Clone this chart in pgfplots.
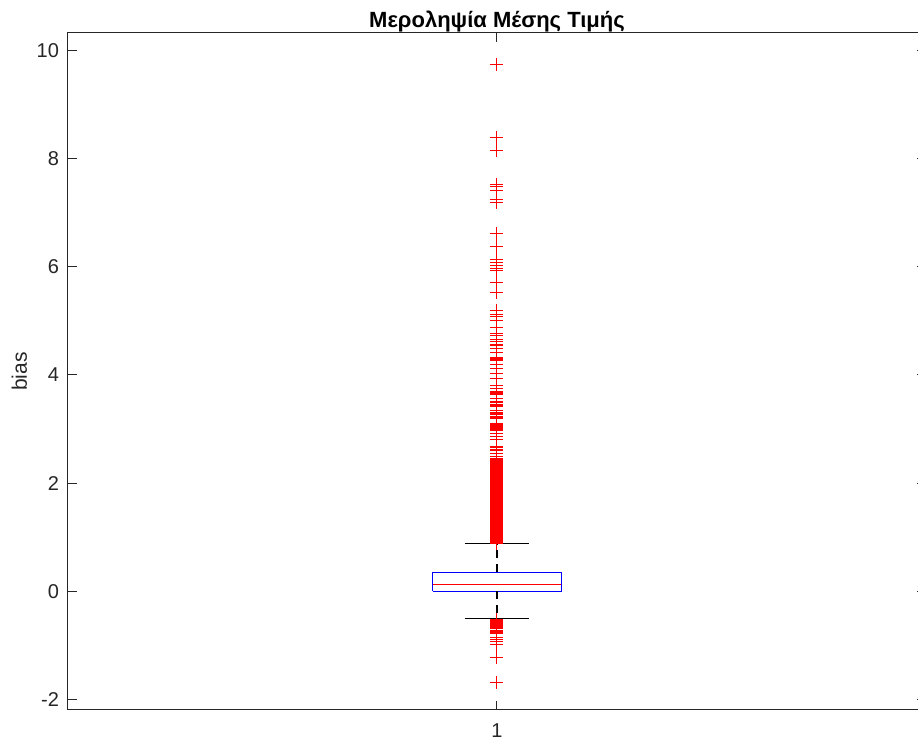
\documentclass[border=0pt]{standalone}
\usepackage{fontspec}
\setmainfont{Liberation Sans}
\usepackage{pgfplots}
\usepackage{pgfplotstable}
\pgfplotsset{compat=1.18}
\definecolor{axgray}{RGB}{38,38,38}

\pgfplotstableread{
x y
1 9.74
1 8.39
1 8.15
1 7.52
1 7.48
1 7.42
1 7.24
1 7.19
1 6.62
1 6.38
1 6.13
1 6.08
1 6.02
1 5.98
1 5.93
1 5.71
1 5.53
1 5.20
1 5.12
1 5.08
1 5.01
1 4.88
1 4.77
1 4.74
1 4.65
1 4.62
1 4.56
1 4.54
1 4.49
1 4.41
1 4.33
1 4.32
1 4.31
1 4.30
1 4.29
1 4.28
1 4.27
1 4.26
1 4.19
1 4.12
1 4.03
1 3.94
1 3.80
1 3.75
1 3.69
1 3.67
1 3.65
1 3.63
1 3.57
1 3.51
1 3.49
1 3.46
1 3.44
1 3.41
1 3.35
1 3.30
1 3.28
1 3.26
1 3.24
1 3.22
1 3.20
1 3.11
1 3.09
1 3.07
1 3.05
1 3.03
1 3.01
1 2.99
1 2.98
1 2.92
1 2.86
1 2.80
1 2.67
1 2.65
1 2.63
1 2.61
1 2.55
1 2.49
1 2.45
1 2.44
1 2.43
1 2.42
1 2.41
1 2.40
1 2.39
1 2.38
1 2.37
1 2.36
1 2.35
1 2.34
1 2.33
1 2.32
1 2.31
1 2.30
1 2.29
1 2.28
1 2.27
1 2.26
1 2.25
1 2.24
1 2.23
1 2.22
1 2.21
1 2.20
1 2.19
1 2.18
1 2.17
1 2.16
1 2.15
1 2.14
1 2.13
1 2.12
1 2.11
1 2.10
1 2.09
1 2.08
1 2.07
1 2.06
1 2.05
1 2.04
1 2.03
1 2.02
1 2.01
1 2.00
1 1.99
1 1.98
1 1.97
1 1.96
1 1.95
1 1.94
1 1.93
1 1.92
1 1.91
1 1.90
1 1.89
1 1.88
1 1.87
1 1.86
1 1.85
1 1.84
1 1.83
1 1.82
1 1.81
1 1.80
1 1.79
1 1.78
1 1.77
1 1.76
1 1.75
1 1.74
1 1.73
1 1.72
1 1.71
1 1.70
1 1.69
1 1.68
1 1.67
1 1.66
1 1.65
1 1.64
1 1.63
1 1.62
1 1.61
1 1.60
1 1.59
1 1.58
1 1.57
1 1.56
1 1.55
1 1.54
1 1.53
1 1.52
1 1.51
1 1.50
1 1.49
1 1.48
1 1.47
1 1.46
1 1.45
1 1.44
1 1.43
1 1.42
1 1.41
1 1.40
1 1.39
1 1.38
1 1.37
1 1.36
1 1.35
1 1.34
1 1.33
1 1.32
1 1.31
1 1.30
1 1.29
1 1.28
1 1.27
1 1.26
1 1.25
1 1.24
1 1.23
1 1.22
1 1.21
1 1.20
1 1.19
1 1.18
1 1.17
1 1.16
1 1.15
1 1.14
1 1.13
1 1.12
1 1.11
1 1.10
1 1.09
1 1.08
1 1.07
1 1.06
1 1.05
1 1.04
1 1.03
1 1.02
1 1.01
1 1.00
1 0.99
1 0.98
1 0.97
1 0.96
1 0.95
1 0.94
1 0.93
1 0.92
1 0.91
1 0.90
1 0.89
1 0.88
1 -0.52
1 -0.53
1 -0.54
1 -0.55
1 -0.56
1 -0.57
1 -0.58
1 -0.59
1 -0.60
1 -0.61
1 -0.62
1 -0.64
1 -0.66
1 -0.68
1 -0.70
1 -0.72
1 -0.74
1 -0.76
1 -0.78
1 -0.85
1 -0.89
1 -0.94
1 -0.98
1 -1.23
1 -1.69
}\outliers

\begin{document}
\begin{tikzpicture}
\begin{axis}[
  name=ax,
  scale only axis,
  width=429pt, height=338.5pt,
  xmin=0.5, xmax=1.5,
  ymin=-2.2, ymax=10.33,
  xtick={1}, xticklabels={1},
  ytick={-2,0,2,4,6,8,10},
  yticklabels={-2,0,2,4,6,8,10},
  tick align=inside,
  major tick length=4.5pt,
  every tick/.style={axgray, line width=0.5pt},
  axis line style={axgray, line width=0.5pt},
  ticklabel style={font=\fontsize{10}{12}\selectfont, text=axgray},
  yticklabel style={xshift=-1pt},
  xticklabel style={yshift=-3.5pt},
  title={\textbf{Μεροληψία Μέσης Τιμής}},
  every axis title/.style={at={(axis description cs:0.5,1)}, anchor=base, yshift=2.5pt, font=\fontsize{11}{13}\selectfont},
  ylabel={bias},
  every axis y label/.style={at={(axis description cs:-0.048,0.5)}, rotate=90, anchor=base, font=\fontsize{10.5}{12}\selectfont, text=axgray},
  clip=false,
]
% box
\addplot[blue, line width=0.5pt] coordinates {(0.925,0) (1.075,0) (1.075,0.346) (0.925,0.346) (0.925,0)};
% median
\addplot[red, line width=0.5pt] coordinates {(0.925,0.13) (1.075,0.13)};
% whiskers
\addplot[black, line width=0.8pt, dash pattern=on 4pt off 3pt] coordinates {(1,0.346) (1,0.876)};
\addplot[black, line width=0.8pt, dash pattern=on 4pt off 3pt] coordinates {(1,0) (1,-0.51)};
% caps
\addplot[black, line width=0.5pt] coordinates {(0.9627,0.876) (1.0373,0.876)};
\addplot[black, line width=0.5pt] coordinates {(0.9627,-0.51) (1.0373,-0.51)};
% outliers
\addplot[only marks, mark=+, red, mark size=3.25pt, mark options={line width=0.5pt}] table[x=x, y=y] {\outliers};
\end{axis}
\pgfresetboundingbox
\path ([xshift=-34pt,yshift=-16pt]ax.south west) rectangle ([xshift=425pt,yshift=16.5pt]ax.north west);
\end{tikzpicture}
\end{document}
